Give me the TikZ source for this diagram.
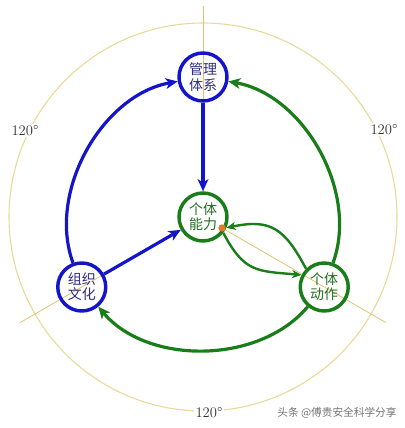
\documentclass[tikz,border=0pt]{standalone}
\usepackage{fontspec}
\newfontfamily\cjk{Noto Sans CJK SC}
\usetikzlibrary{arrows.meta}

\begin{document}
\begin{tikzpicture}
[
x=0.75pt, y=0.75pt,
BlueNode/.style={circle, draw={rgb,255:red,20;green,20;blue,200}, line width=2.6pt, minimum size=36pt, inner sep=0pt, align=center, text={rgb,255:red,45;green,45;blue,125}, font=\cjk\fontsize{10.5}{11.5}\selectfont},
GreenNode/.style={BlueNode, draw={rgb,255:red,25;green,125;blue,25}, text={rgb,255:red,35;green,110;blue,35}},
BlueArc/.style={-{Stealth[length=9pt,width=8pt,inset=2.5pt]}, draw={rgb,255:red,20;green,20;blue,200}, line width=2.4pt},
GreenArc/.style={BlueArc, draw={rgb,255:red,25;green,125;blue,25}},
ThinArc/.style={-{Stealth[length=7pt,width=6pt,inset=2pt]}, draw={rgb,255:red,25;green,125;blue,25}, line width=1.8pt},
GuideCircle/.style={draw={rgb,255:red,235;green,215;blue,150}, line width=0.8pt},
GuideLine/.style={draw={rgb,255:red,225;green,195;blue,115}, line width=0.6pt},
Angle/.style={fill=white, inner sep=1pt, text=black!80, font=\fontsize{11}{13}\selectfont},
Dot/.style={circle, fill={rgb,255:red,230;green,120;blue,40}, inner sep=0pt, minimum size=5.5pt},
Mark/.style={text=black!55, font=\cjk\fontsize{8}{10}\selectfont}
]

\useasboundingbox (0,0) rectangle (404,428);
\coordinate (O) at (203,211);

% guide circle, radial lines and angles
\draw[GuideCircle] (O) circle[radius=194];
\foreach \a in {90,210,330}
  \draw[GuideLine] ([shift={(\a:22)}]O) -- ([shift={(\a:211)}]O);
\node[Angle] (angleL) at (25,297) {120°};
\node[Angle] (angleR) at (384,298) {120°};
\node[Angle] (angleB) at (209,15) {120°};

% nodes
\node[BlueNode]  (mgmt)    at ([shift={(90:140)}]O)  {管理\\体系};
\node[BlueNode]  (culture) at ([shift={(210:140)}]O) {组织\\文化};
\node[GreenNode] (action)  at ([shift={(330:140)}]O) {个体\\动作};
\node[GreenNode] (ability) at (O) {个体\\能力};

% connectors
\draw[BlueArc]  (culture) to[out=110,in=190,looseness=0.93] (mgmt);
\draw[GreenArc] (action) to[out=70,in=-10,looseness=0.93] (mgmt);
\draw[GreenArc] (action) to[out=-130,in=-50,looseness=0.93] (culture);
\draw[BlueArc]  (mgmt) -- (ability);
\draw[BlueArc]  (culture) -- (ability);
\draw[ThinArc]  (action.135) to[out=118,in=12,looseness=1.3] (ability.-25);
\draw[ThinArc]  (ability.-38) to[out=-62,in=175,looseness=1.3] (action.152);

\node[Dot] (dot) at ([shift={(330:22)}]O) {};
\node[Mark] (mark) at (337,15) {头条 @傅贵安全科学分享};
\end{tikzpicture}
\end{document}
